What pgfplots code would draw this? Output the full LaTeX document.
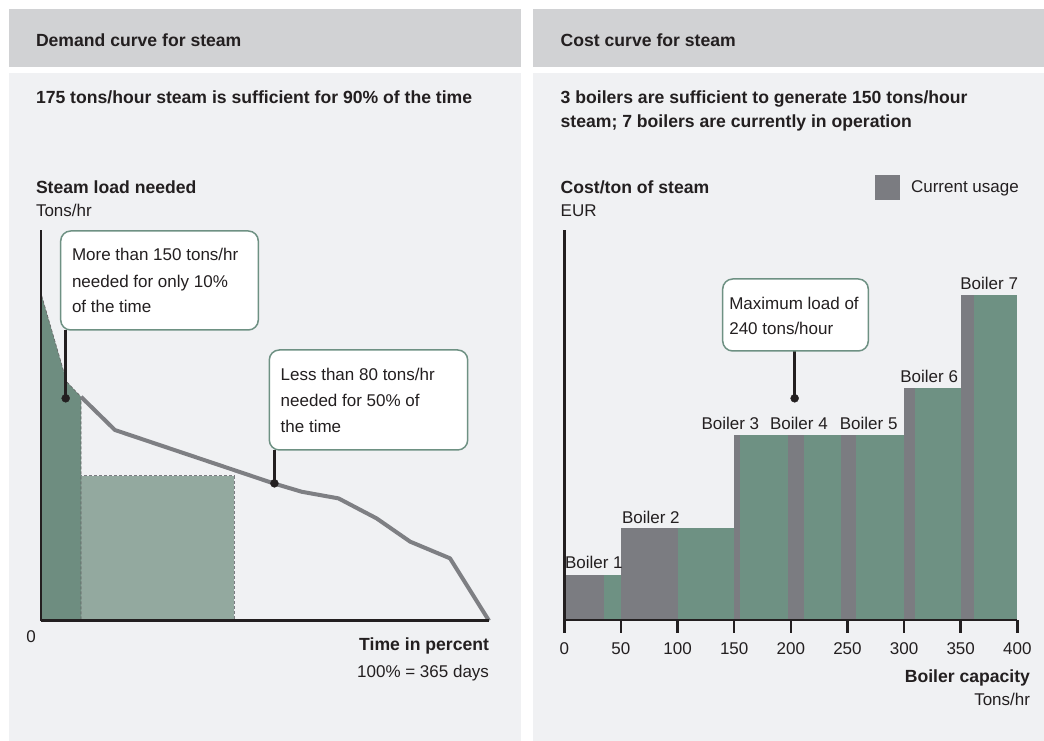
\documentclass[border=0pt]{standalone}
\usepackage{fontspec}
\setmainfont{Liberation Sans}
\usepackage{pgfplots}
\pgfplotsset{compat=1.18}
\definecolor{hdr}{HTML}{D1D2D4}
\definecolor{bodyc}{HTML}{F0F1F3}
\definecolor{txt}{HTML}{231F20}
\definecolor{grn}{HTML}{6E9183}
\definecolor{dgrn}{HTML}{6E8D80}
\definecolor{lgrn}{HTML}{93A99F}
\definecolor{gbar}{HTML}{7B7C81}
\definecolor{cline}{HTML}{7E7F83}
\newcommand{\bt}{\fontsize{17.6}{21}\selectfont\bfseries}
\newcommand{\rt}{\fontsize{17}{21}\selectfont}
\begin{document}
\begin{tikzpicture}[every node/.style={inner sep=0pt, outer sep=0pt, text=txt}]
\path[use as bounding box] (0,0) rectangle (1044pt,741pt);
\fill[white] (0,0) rectangle (1044pt,741pt);
\fill[hdr] (9pt,674pt) rectangle (521pt,732pt);
\fill[hdr] (533pt,674pt) rectangle (1044pt,732pt);
\fill[bodyc] (9pt,0pt) rectangle (521pt,668pt);
\fill[bodyc] (533pt,0pt) rectangle (1044pt,668pt);
% titles left
\node[anchor=base west] at (36pt,694.5pt) {\bt Demand curve for steam};
\node[anchor=base west] at (36pt,637.7pt) {\bt 175 tons/hour steam is sufficient for 90\% of the time};
\node[anchor=base west] at (36pt,547.7pt) {\bt Steam load needed};
\node[anchor=base west] at (36pt,524pt) {\rt Tons/hr};
% titles right
\node[anchor=base west] at (560.7pt,694.5pt) {\bt Cost curve for steam};
\node[anchor=base west] at (560.7pt,637.7pt) {\bt 3 boilers are sufficient to generate 150 tons/hour};
\node[anchor=base west] at (560.7pt,613.5pt) {\bt steam; 7 boilers are currently in operation};
\node[anchor=base west] at (560.7pt,547.7pt) {\bt Cost/ton of steam};
\node[anchor=base west] at (560.7pt,524pt) {\rt EUR};

% ---------- left chart ----------
\begin{axis}[at={(41pt,120.3pt)}, anchor=south west, width=448pt, height=390.7pt, scale only axis,
  xmin=0, xmax=100, ymin=0, ymax=260,
  axis x line=bottom, axis y line=left,
  axis line style={-, line width=2.6pt, txt},
  xtick=\empty, ytick=\empty, clip=false, axis on top]
\addplot[fill=lgrn, draw=gbar, densely dashed, line width=0.7pt] coordinates {(0.74,0) (0.74,96.5) (43.15,96.5) (43.15,0)} --cycle;
\addplot[fill=dgrn, draw=txt!70, densely dashed, line width=0.6pt] coordinates {(0,0) (0,217.9) (5.74,159) (8.93,149) (8.93,0)} --cycle;
\addplot[cline, line width=4pt, line join=round] coordinates {(8.93,149) (16.5,126.9) (51.9,91.4) (58.2,85.8) (66.4,81.4) (74.9,68.1) (82.4,52.6) (91.3,41.5) (100,0)};
\addplot[txt, line width=2.4pt] coordinates {(5.51,193.5) (5.51,148)};
\addplot[txt, line width=2.4pt] coordinates {(52.1,113.6) (52.1,91.4)};
\addplot[only marks, mark=*, mark size=4pt, txt] coordinates {(5.51,148) (52.1,91.4)};
\end{axis}
\node[anchor=base] at (31pt,98.5pt) {\rt 0};
\node[anchor=base east] at (489pt,90pt) {\bt Time in percent};
\node[anchor=base east] at (489pt,63.7pt) {\rt 100\% = 365 days};
% callouts left
\draw[grn, line width=1.5pt, fill=white, rounded corners=10pt] (60.7pt,411pt) rectangle (258.3pt,510pt);
\node[anchor=base west] at (72pt,480.5pt) {\rt More than 150 tons/hr};
\node[anchor=base west] at (72pt,453.7pt) {\rt needed for only 10\%};
\node[anchor=base west] at (72pt,428.3pt) {\rt of the time};
\draw[grn, line width=1.5pt, fill=white, rounded corners=10pt] (269.3pt,291pt) rectangle (467.7pt,391pt);
\node[anchor=base west] at (280.7pt,360pt) {\rt Less than 80 tons/hr};
\node[anchor=base west] at (280.7pt,334.3pt) {\rt needed for 50\% of};
\node[anchor=base west] at (280.7pt,308.3pt) {\rt the time};

% ---------- right chart ----------
\begin{axis}[at={(564.3pt,121pt)}, anchor=south west, width=453pt, height=390pt, scale only axis,
  xmin=0, xmax=400, ymin=0, ymax=390,
  axis x line=bottom, axis y line=left,
  axis line style={-, line width=2.6pt, txt},
  xtick={0,50,...,400}, ytick=\empty,
  tick align=outside, major tick length=13pt,
  tick style={line width=2.6pt, txt},
  xticklabel style={font=\rt, text=txt, anchor=base, yshift=-22pt},
  /pgf/number format/assume math mode=true,
  clip=false, axis on top,
  legend style={at={(axis cs:274.3,433)}, anchor=west, draw=none, fill=none, font=\rt,
    inner sep=0pt, nodes={inner sep=0pt}},
  legend image code/.code={\fill[gbar] (0pt,-12pt) rectangle (24pt,12pt);},
  legend cell align=left]
\addlegendimage{gbar}
\addlegendentry{\hspace*{11.7pt}Current usage}
\addplot[fill=gbar, draw=none, forget plot] coordinates {(0,0) (0,45) (35.3,45) (35.3,0)} --cycle;
\addplot[fill=grn, draw=none, forget plot] coordinates {(35.3,0) (35.3,45) (50,45) (50,0)} --cycle;
\addplot[fill=gbar, draw=none, forget plot] coordinates {(50,0) (50,92.3) (100.5,92.3) (100.5,0)} --cycle;
\addplot[fill=grn, draw=none, forget plot] coordinates {(100.5,0) (100.5,92.3) (150,92.3) (150,0)} --cycle;
\addplot[fill=gbar, draw=none, forget plot] coordinates {(150,0) (150,185) (155.4,185) (155.4,0)} --cycle;
\addplot[fill=grn, draw=none, forget plot] coordinates {(155.4,0) (155.4,185) (197.8,185) (197.8,0)} --cycle;
\addplot[fill=gbar, draw=none, forget plot] coordinates {(197.8,0) (197.8,185) (211.9,185) (211.9,0)} --cycle;
\addplot[fill=grn, draw=none, forget plot] coordinates {(211.9,0) (211.9,185) (244.1,185) (244.1,0)} --cycle;
\addplot[fill=gbar, draw=none, forget plot] coordinates {(244.1,0) (244.1,185) (257.6,185) (257.6,0)} --cycle;
\addplot[fill=grn, draw=none, forget plot] coordinates {(257.6,0) (257.6,185) (300,185) (300,0)} --cycle;
\addplot[fill=gbar, draw=none, forget plot] coordinates {(300,0) (300,232.3) (309.7,232.3) (309.7,0)} --cycle;
\addplot[fill=grn, draw=none, forget plot] coordinates {(309.7,0) (309.7,232.3) (350.3,232.3) (350.3,0)} --cycle;
\addplot[fill=gbar, draw=none, forget plot] coordinates {(350.3,0) (350.3,325) (361.8,325) (361.8,0)} --cycle;
\addplot[fill=grn, draw=none, forget plot] coordinates {(361.8,0) (361.8,325) (400,325) (400,0)} --cycle;
\addplot[txt, line width=2.4pt, forget plot] coordinates {(203.4,269) (203.4,221.7)};
\addplot[only marks, mark=*, mark size=4pt, txt, forget plot] coordinates {(203.4,221.7)};
\node[anchor=base] at (axis cs:26.1,51.7) {\rt Boiler 1};
\node[anchor=base] at (axis cs:76.4,96) {\rt Boiler 2};
\node[anchor=base] at (axis cs:146.6,190) {\rt Boiler 3};
\node[anchor=base] at (axis cs:207.2,190) {\rt Boiler 4};
\node[anchor=base] at (axis cs:268.8,190) {\rt Boiler 5};
\node[anchor=base] at (axis cs:322.2,237.7) {\rt Boiler 6};
\node[anchor=base] at (axis cs:375.2,330.7) {\rt Boiler 7};
\end{axis}
\node[anchor=base east] at (1030pt,58.7pt) {\bt Boiler capacity};
\node[anchor=base east] at (1030pt,35pt) {\rt Tons/hr};
\draw[grn, line width=1.5pt, fill=white, rounded corners=10pt] (722.7pt,390pt) rectangle (868.3pt,462pt);
\node[anchor=base west] at (729.3pt,431pt) {\rt Maximum load of};
\node[anchor=base west] at (729.3pt,406pt) {\rt 240 tons/hour};
\end{tikzpicture}
\end{document}
